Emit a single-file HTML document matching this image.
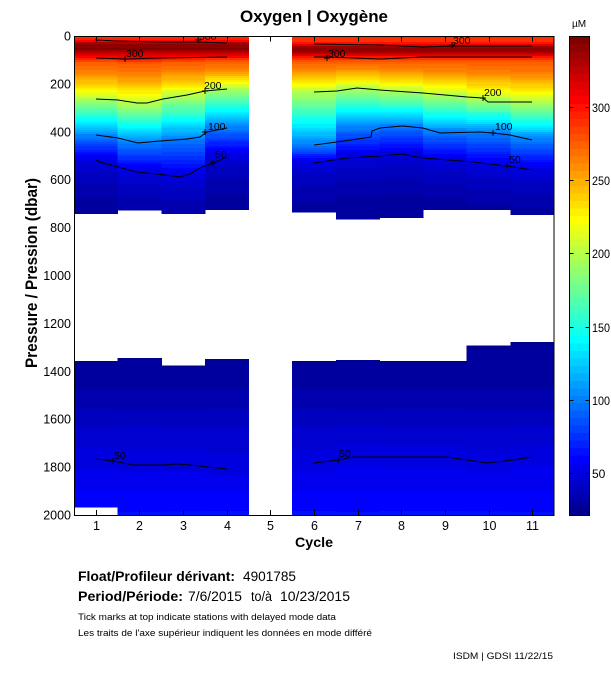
<!DOCTYPE html>
<html><head><meta charset="utf-8">
<style>
html,body{margin:0;padding:0;background:#fff;}
svg{display:block;font-family:"Liberation Sans",Arial,sans-serif;}
</style></head><body>
<svg id="s" width="611" height="675" viewBox="0 0 611 675" xmlns="http://www.w3.org/2000/svg">
<defs><clipPath id="pc"><rect x="74" y="36" width="480" height="479"/></clipPath></defs>
<rect x="0" y="0" width="611" height="675" fill="#fff"/>
<g id="cols" shape-rendering="crispEdges"></g>
<g id="cbar" shape-rendering="crispEdges"></g>

<!-- contours -->
<g clip-path="url(#pc)" fill="none" stroke="#000" stroke-width="1">
<polyline points="96,39 96,40 117,41 160,42 198,42 227,43"/>
<polyline points="96,58 125,59 160,58 227,57"/>
<polyline points="96,99 118,100 137,103 147,103 163,99 187,95 205,91 227,89"/>
<polyline points="96,135 118,138 138,143 160,141 187,139 200,137 207,132 227,128"/>
<polyline points="96,160 100,162 118,167 137,172 157,174 180,177 190,174 200,168 213,163 227,157"/>
<polyline points="314,44 380,45 423,47 453,46 532,46"/>
<polyline points="314,57 327,57 380,59 423,57 532,57"/>
<polyline points="314,92 337,91 357,88 380,90 423,93 467,97 483,98 488,102 532,102"/>
<polyline points="314,145 337,142 371,137 372,131 380,128 402,126 423,128 440,133 480,132 493,133 510,135 532,140"/>
<polyline points="314,163 347,158 380,156 402,154 423,158 473,162 507,166 532,170"/>
<polyline points="96,459 113,461 133,465 163,465 177,464 190,465 207,467 227,469"/>
<polyline points="314,463 338,460 353,457 395,457 447,457 467,460 487,463 513,460 532,457"/>
<path d="M198,37v6M195,40h6 M125,56v6M122,59h6 M205,88v6M202,91h6 M205,129v6M202,132h6 M213,160v6M210,163h6 M452,42v6M449,45h6 M327,55v6M324,58h6 M483,95v6M480,98h6 M493,130v6M490,133h6 M507,163v6M504,166h6 M113,458v6M110,461h6 M338,457v6M335,460h6"/>
</g>
<g clip-path="url(#pc)" font-size="10.5" fill="#000">
<text x="199" y="40">300</text>
<text x="126" y="57">300</text>
<text x="204" y="89">200</text>
<text x="208" y="130">100</text>
<text x="215" y="158">50</text>
<text x="453" y="44">300</text>
<text x="328" y="57">300</text>
<text x="484" y="96">200</text>
<text x="495" y="130">100</text>
<text x="509" y="163">50</text>
<text x="114" y="459">50</text>
<text x="339" y="457">50</text>
</g>

<!-- frame and ticks -->
<rect x="74.5" y="36.5" width="479.5" height="479" fill="none" stroke="#000" stroke-width="1"/>
<g id="xt" stroke="#000" stroke-width="1"></g>

<g font-size="12.5" fill="#000" text-anchor="end">
<text x="71" y="40.5">0</text>
<text x="71" y="88.4">200</text>
<text x="71" y="136.3">400</text>
<text x="71" y="184.2">600</text>
<text x="71" y="232.1">800</text>
<text x="71" y="280">1000</text>
<text x="71" y="327.9">1200</text>
<text x="71" y="375.8">1400</text>
<text x="71" y="423.7">1600</text>
<text x="71" y="471.6">1800</text>
<text x="71" y="519.5">2000</text>
</g>
<g id="xl" font-size="12.5" fill="#000" text-anchor="middle"></g>

<text x="314" y="547" font-size="14" font-weight="bold" text-anchor="middle" textLength="38" lengthAdjust="spacingAndGlyphs">Cycle</text>
<text transform="translate(37,273) rotate(-90)" font-size="17" font-weight="bold" text-anchor="middle" textLength="190" lengthAdjust="spacingAndGlyphs">Pressure / Pression (dbar)</text>
<text x="314" y="22" font-size="17" font-weight="bold" text-anchor="middle" textLength="148" lengthAdjust="spacingAndGlyphs">Oxygen | Oxygène</text>
<text x="572" y="27" font-size="10">µM</text>

<!-- colorbar frame -->
<rect x="569.5" y="36.5" width="20" height="479" fill="none" stroke="#000" stroke-width="1"/>
<g id="cbt" stroke="#000" stroke-width="1"></g>
<g id="cbl" font-size="12" fill="#000"></g>

<!-- footer -->
<text x="78" y="581" font-size="13.5" font-weight="bold" textLength="157" lengthAdjust="spacingAndGlyphs">Float/Profileur dérivant:</text>
<text x="243" y="581" font-size="13.5" textLength="53" lengthAdjust="spacingAndGlyphs">4901785</text>
<text x="78" y="601" font-size="13.5" font-weight="bold" textLength="105" lengthAdjust="spacingAndGlyphs">Period/Période:</text>
<text x="188" y="601" font-size="13.5" textLength="54" lengthAdjust="spacingAndGlyphs">7/6/2015</text>
<text x="251" y="601" font-size="13.5" textLength="21" lengthAdjust="spacingAndGlyphs">to/à</text>
<text x="280" y="601" font-size="13.5" textLength="70" lengthAdjust="spacingAndGlyphs">10/23/2015</text>
<text x="78" y="620" font-size="9" textLength="258" lengthAdjust="spacingAndGlyphs">Tick marks at top indicate stations with delayed mode data</text>
<text x="78" y="636" font-size="9" textLength="294" lengthAdjust="spacingAndGlyphs">Les traits de l'axe supérieur indiquent les données en mode différé</text>
<text x="453" y="659" font-size="9.5" textLength="100" lengthAdjust="spacingAndGlyphs">ISDM | GDSI  11/22/15</text>
</svg>
<script>
(function(){
var NS='http://www.w3.org/2000/svg';
var cmin=21.3,cmax=348.5;
function u(j){if(j<1||j>47)return 0;if(j<=16)return j/16;if(j<=31)return 1;return (48-j)/16;}
function jet(k){var r=u(k-24),g=u(k-8),b=u(k+8);return 'rgb('+Math.round(r*255)+','+Math.round(g*255)+','+Math.round(b*255)+')';}
function idx(v){var k=Math.floor((v-cmin)/(cmax-cmin)*64)+1;return Math.max(1,Math.min(64,k));}
function interp(kn,p){if(p<=kn[0][0])return kn[0][1];for(var i=1;i<kn.length;i++){if(p<=kn[i][0]){var a=kn[i-1],b=kn[i];return a[1]+(b[1]-a[1])*(p-a[0])/(b[0]-a[0]);}}return kn[kn.length-1][1];}
function el(n,a,par){var e=document.createElementNS(NS,n);for(var k in a)e.setAttribute(k,a[k]);par.appendChild(e);return e;}
var cols=document.getElementById('cols');
var D={
1:[92,263,418,518,214,361,507.7,1766,0],
2:[96,280,447,568,210.7,358,515,1791,0],
3:[92,250,430,585,214,365.7,515,1790,0],
4:[90,221,384,497,210,359,515,1808,0],
6:[88,234,455,530,212.7,361,515,1783,1],
7:[88,217,385,500,219.7,360,515,1754,1],
8:[88,230,376,493,218,361,515,1757,1],
9:[88,246,401,518,210,361,515,1757,1],
10:[88,263,405,543,210,345.7,515,1783,1],
11:[88,276,434,560,215,342,515,1757,1]
};
var S=0.2395;
function py(y){return (y-36)/S;}
function drawBand(x0,w,y0,y1,kn){
  var step=2,y=y0,curK=-1,sy=y0;
  var segs=[];
  while(y<y1-0.001){
    var h=Math.min(step,y1-y);var p=py(y+h/2);var k=idx(interp(kn,p));
    if(k!==curK){if(curK>0)segs.push([sy,y,curK]);curK=k;sy=y;}
    y+=h;
  }
  segs.push([sy,y1,curK]);
  segs.forEach(function(s,i){
    var hh=s[1]-s[0]+(i<segs.length-1?0.6:0);
    el('rect',{x:x0,y:s[0],width:w,height:hh,fill:jet(s[2])},cols);
  });
}
for(var c in D){
  var d=D[c];c=+c;
  var x0=74+(c-1)*480/11,x1=74+c*480/11;
  var w=x1-x0+(c<11?0.6:0);
  var p300=d[0],p200=d[1],p100=d[2],p50=d[3];
  var top=d[8]?[[0,287],[22,292],[33,302],[45,338],[65,343],[78,320]]:[[0,287],[12,292],[22,308],[32,338],[55,345],[75,322]];
  var kn=top.concat([[p300,300],[p300+18,276],[p300+0.35*(p200-p300),265],[p300+0.78*(p200-p300),226],[p200,200],[p100,100],[p50,50],[p50+60,40],[p50+150,32],[800,27]]);
  drawBand(x0,w,36,d[4],kn);
  var lt=py(d[5]);
  var kd=[[lt,26],[1450,30],[1550,36],[1650,43],[d[7],50],[1900,57],[2000,63]];
  drawBand(x0,w,d[5],d[6],kd);
}
// colorbar
var cb=document.getElementById('cbar');
var hh=479/64;
for(var k=1;k<=64;k++){
  var yb=515-(k-1)*hh;
  el('rect',{x:569.5,y:yb-hh,width:20,height:hh+0.5,fill:jet(k)},cb);
}
var cbt=document.getElementById('cbt'),cbl=document.getElementById('cbl');
[50,100,150,200,250,300].forEach(function(v){
  var y=Math.round(515-(v-cmin)/(cmax-cmin)*479)+0.5;
  el('line',{x1:569.5,x2:573.5,y1:y,y2:y},cbt);
  el('line',{x1:585.5,x2:589.5,y1:y,y2:y},cbt);
  var a={x:592,y:y+4.5};
  if(v>=100){a.textLength=18;a.lengthAdjust='spacingAndGlyphs';}
  var t=el('text',a,cbl);t.textContent=String(v);
});
// x ticks
var xt=document.getElementById('xt'),xl=document.getElementById('xl');
for(var i=1;i<=11;i++){
  var x=Math.round(74+(i-0.5)*480/11)+0.5;
  el('line',{x1:x,x2:x,y1:36,y2:41.5},xt);
  el('line',{x1:x,x2:x,y1:510,y2:515.5},xt);
  var t=el('text',{x:x,y:530},xl);t.textContent=String(i);
}
})();
</script>
</body></html>
